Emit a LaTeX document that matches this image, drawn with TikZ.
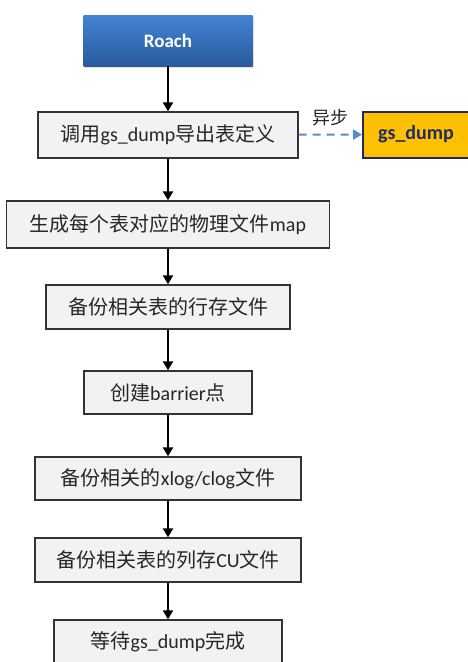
\documentclass[tikz,border=0pt]{standalone}
\usepackage{fontspec}
\setmainfont{Carlito}
\newfontfamily\cjk{Noto Sans CJK SC}
\newcommand\zh[1]{{\cjk #1}}
\usetikzlibrary{arrows.meta,shadows}
\definecolor{boxfill}{HTML}{F2F2F2}
\definecolor{boxline}{HTML}{333333}
\definecolor{roachtop}{HTML}{4283D3}
\definecolor{roachbot}{HTML}{2A5B9C}
\definecolor{gold}{HTML}{FFC000}
\definecolor{navy}{HTML}{1F2A6B}
\definecolor{dashblue}{HTML}{5B8CC8}
\tikzset{
  stepbox/.style={draw=boxline, line width=1.3pt, fill=boxfill, rectangle, inner sep=0pt,
    font=\fontsize{20}{24}\selectfont, text=black!85},
  flow/.style={draw=black, line width=2pt, -{Triangle[length=9pt,width=10pt]}},
}
\begin{document}
\begin{tikzpicture}[x=1pt,y=-1pt]
\useasboundingbox (0,0) rectangle (467,662);
\node[rectangle, minimum width=169pt, minimum height=51pt, inner sep=0pt,
  top color=roachtop, bottom color=roachbot, drop shadow={opacity=0.25,shadow xshift=1.5pt,shadow yshift=-1.5pt},
  text=white, font=\fontsize{19}{22}\selectfont\bfseries] (roach) at (168,40.5) {Roach};
\node[stepbox, minimum width=260pt, minimum height=46pt] (b1) at (168,135) {\zh{调用}gs\_dump\zh{导出表定义}};
\node[stepbox, minimum width=323pt, minimum height=47pt] (b2) at (168,224.5) {\zh{生成每个表对应的物理文件}map};
\node[stepbox, minimum width=244pt, minimum height=44pt] (b3) at (168,307) {\zh{备份相关表的行存文件}};
\node[stepbox, minimum width=168pt, minimum height=43pt] (b4) at (168,392.5) {\zh{创建}barrier\zh{点}};
\node[stepbox, minimum width=266pt, minimum height=43pt] (b5) at (168,478.5) {\zh{备份相关的}xlog/clog\zh{文件}};
\node[stepbox, minimum width=266pt, minimum height=44pt] (b6) at (168,560) {\zh{备份相关表的列存}CU\zh{文件}};
\node[stepbox, minimum width=228pt, minimum height=44pt] (b7) at (168,642) {\zh{等待}gs\_dump\zh{完成}};
\node[rectangle, draw=navy, line width=2pt, fill=gold, minimum width=106pt, minimum height=46pt, inner sep=0pt,
  text=navy, font=\fontsize{20}{24}\selectfont\bfseries] (gsd) at (416,134.5) {gs\_dump};
\draw[flow] (roach) -- (b1);
\draw[flow] (b1) -- (b2);
\draw[flow] (b2) -- (b3);
\draw[flow] (b3) -- (b4);
\draw[flow] (b4) -- (b5);
\draw[flow] (b5) -- (b6);
\draw[flow] (b6) -- (b7);
\draw[draw=dashblue, line width=2pt, dash pattern=on 8pt off 6pt, -{Triangle[length=9pt,width=10pt]}] (b1) -- (gsd)
  node[pos=0.5, above=4pt, text=black!85, font=\fontsize{18}{20}\selectfont\cjk] (lbl) {异步};
\end{tikzpicture}
\end{document}
